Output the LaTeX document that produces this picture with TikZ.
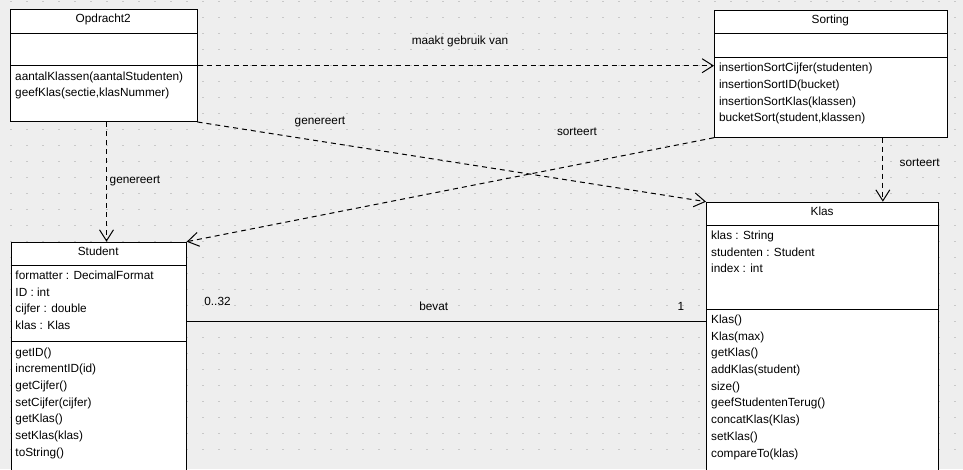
\documentclass[tikz,border=0pt]{standalone}
\usepackage{fontspec}
\setmainfont{Liberation Sans}
\usetikzlibrary{arrows.meta}
\definecolor{bgc}{HTML}{EEEEEE}
\definecolor{dotc}{HTML}{C8C8C8}
\begin{document}
\begin{tikzpicture}[x=1pt,y=-1pt,line width=1pt,
  classbox/.style={draw=black,fill=white,line width=1pt,inner sep=0pt,anchor=north west},
  member/.style={anchor=base west,inner sep=0pt,text height=8.6pt,text depth=2.5pt,font=\fontsize{11.8}{14}\selectfont},
  classtitle/.style={member,anchor=base},
  lbl/.style={member,anchor=base},
  dep/.style={draw=black,dash pattern=on 5pt off 4pt,-{Straight Barb[length=11pt,width=14pt]}},
  assoc/.style={draw=black}]
\useasboundingbox (0,0) rectangle (963,469);
\clip (0,0) rectangle (963,469);
\fill[bgc] (0,0) rectangle (963,469);
\foreach \x in {11,27,...,955}
  \foreach \y in {1.5,17.5,...,465}
    \fill[dotc] (\x-0.8,\y-0.8) rectangle ++(1.6,1.6);

% class boxes
\node[classbox,minimum width=186.5pt,minimum height=112pt] (opd) at (10,9) {};
\node[classbox,minimum width=232.7pt,minimum height=127.2pt] (sort) at (714,9.5) {};
\node[classbox,minimum width=175pt,minimum height=280pt] (stu) at (10.7,241.7) {};
\node[classbox,minimum width=232.3pt,minimum height=300pt] (klas) at (706,201.7) {};

% separators
\coordinate (opdsep1) at (10,33.3);
\coordinate (opdsep2) at (10,65.7);
\draw (opdsep1) -- (opdsep1 -| opd.east);
\draw (opdsep2) -- (opdsep2 -| opd.east);
\coordinate (sortsep1) at (714,33.3);
\coordinate (sortsep2) at (714,57.3);
\draw (sortsep1) -- (sortsep1 -| sort.east);
\draw (sortsep2) -- (sortsep2 -| sort.east);
\coordinate (stusep1) at (10.7,265);
\coordinate (stusep2) at (10.7,341.7);
\draw (stusep1) -- (stusep1 -| stu.east);
\draw (stusep2) -- (stusep2 -| stu.east);
\coordinate (klassep1) at (706,225);
\coordinate (klassep2) at (706,309);
\draw (klassep1) -- (klassep1 -| klas.east);
\draw (klassep2) -- (klassep2 -| klas.east);

% titles
\node[classtitle] (opdt) at (103.25,22.8) {Opdracht2};
\node[classtitle] (sortt) at (830.35,23.3) {Sorting};
\node[classtitle] (stut) at (98.2,255.5) {Student};
\node[classtitle] (klast) at (822.15,215.5) {Klas};

% members
\foreach \t [count=\i from 0] in {{aantalKlassen(aantalStudenten)},{geefKlas(sectie,klasNummer)}}
  \node[member] (opdm\i) at (14.7,{80.1+16.7*\i}) {\t};
\foreach \t [count=\i from 0] in {{insertionSortCijfer(studenten)},{insertionSortID(bucket)},{insertionSortKlas(klassen)},{bucketSort(student,klassen)}}
  \node[member] (sortm\i) at (718.5,{71.7+16.7*\i}) {\t};
\foreach \t [count=\i from 0] in {{formatter : DecimalFormat},{ID : int},{cijfer : double},{klas : Klas}}
  \node[member] (stua\i) at (15,{279.4+16.7*\i}) {\t};
\foreach \t [count=\i from 0] in {{getID()},{incrementID(id)},{getCijfer()},{setCijfer(cijfer)},{getKlas()},{setKlas(klas)},{toString()}}
  \node[member] (stum\i) at (15,{356.1+16.7*\i}) {\t};
\foreach \t [count=\i from 0] in {{klas : String},{studenten : Student},{index : int}}
  \node[member] (klasa\i) at (710.7,{239.4+16.7*\i}) {\t};
\foreach \t [count=\i from 0] in {{Klas()},{Klas(max)},{getKlas()},{addKlas(student)},{size()},{geefStudentenTerug()},{concatKlas(Klas)},{setKlas()},{compareTo(klas)}}
  \node[member] (klasm\i) at (710.7,{323.4+16.7*\i}) {\t};

% connectors
\draw[dep] (opdsep2 -| opd.east) -- (opdsep2 -| sort.west);
\coordinate (g1) at ([xshift=2.75pt]opd.south);
\draw[dep] (g1) -- (g1 |- stu.north);
\draw[dep] (opd.south east) -- (klas.north west);
\draw[dep] (sort.south west) -- (stu.north east);
\coordinate (s1) at ([xshift=52pt]sort.south);
\draw[dep] (s1) -- (s1 |- klas.north);
\coordinate (bevy) at (0,321);
\draw[assoc] (stu.east |- bevy) -- (klas.west |- bevy);

% labels
\node[lbl] (lmaakt) at (460,44.5) {maakt gebruik van};
\node[lbl] (lgen1) at (320,124) {genereert};
\node[lbl] (lsort1) at (577,135) {sorteert};
\node[lbl] (lgen2) at (135,183) {genereert};
\node[lbl] (lsort2) at (919.6,166) {sorteert};
\node[lbl] (lmult1) at (217.5,305.7) {0..32};
\node[lbl] (lbevat) at (433.8,310) {bevat};
\node[lbl] (lmult2) at (681,310.5) {1};
\end{tikzpicture}
\end{document}
